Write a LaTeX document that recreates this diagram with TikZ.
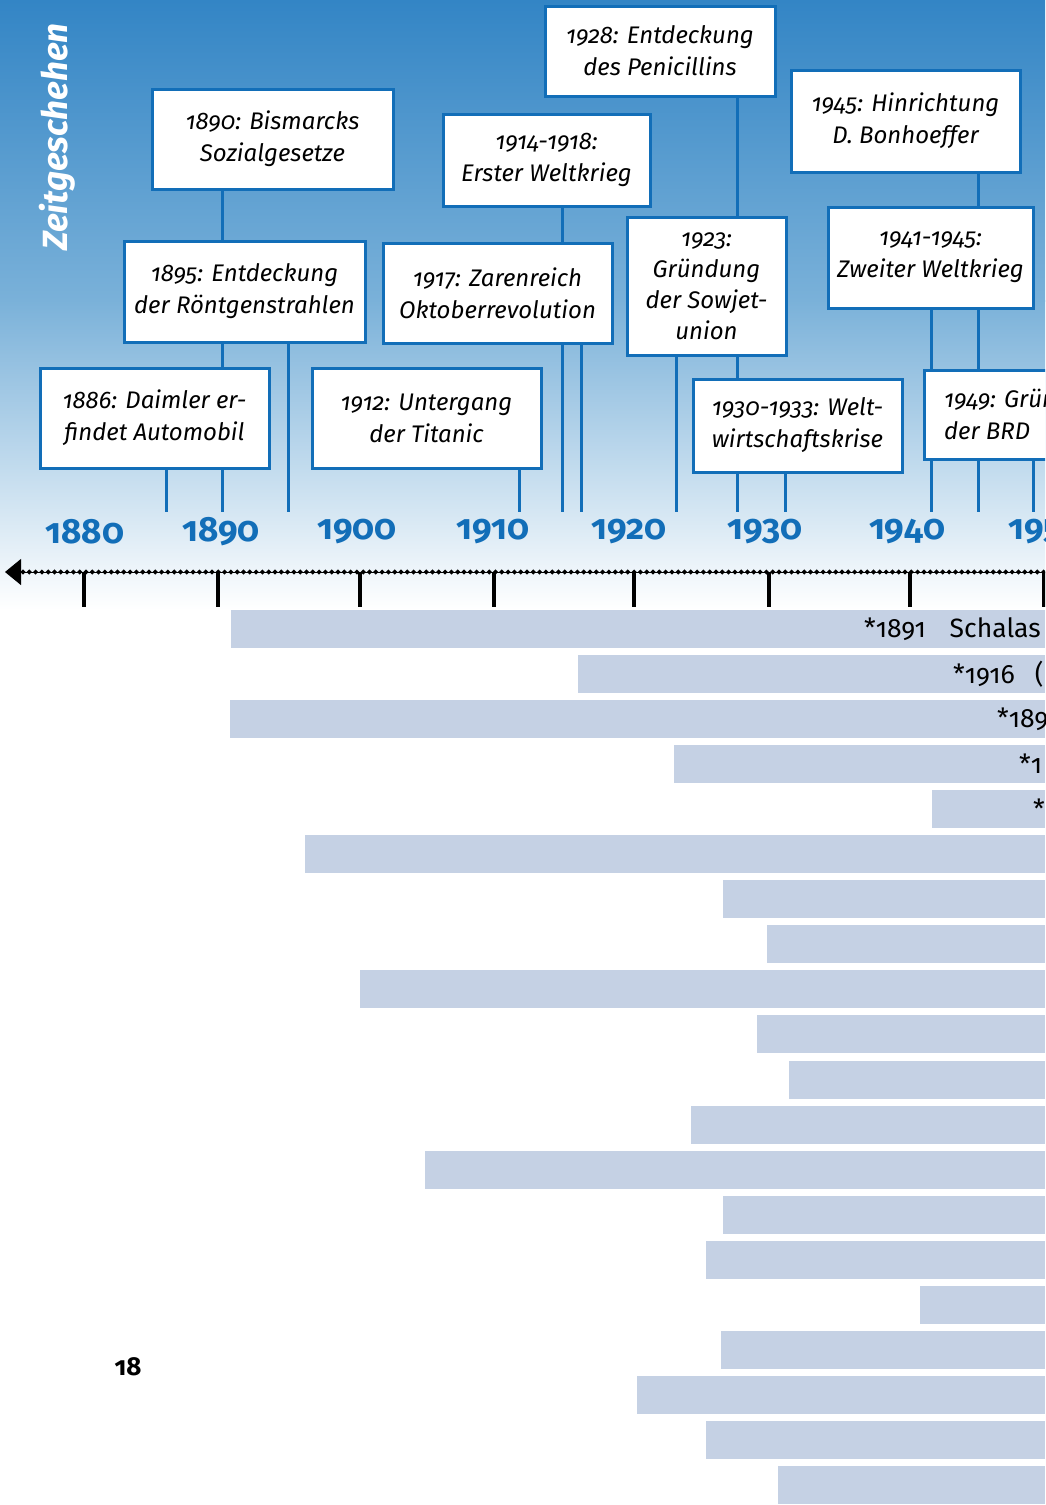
\documentclass[tikz,border=0pt]{standalone}
\usepackage{fontspec}
\setmainfont{Fira Sans}[Numbers=OldStyle]
\usepackage{tikz}
\usetikzlibrary{arrows.meta}
\definecolor{tlblue}{RGB}{18,110,184}
\definecolor{barblue}{RGB}{197,209,228}
\definecolor{skytop}{RGB}{51,133,197}
\definecolor{skymid}{RGB}{122,177,217}

\begin{document}
\begin{tikzpicture}[x=1pt,y=-1pt]
	\def \ground{512}
	\def \yearrow{532}
	\def \axis{572}
	\def \tickend{607}
	\def \bartop{610}
	\def \barstep{45.05}

	\tikzstyle{e-node}=[draw=tlblue,line width=3pt,fill=white,align=center,inner sep=0pt,font=\fontsize{24}{32}\selectfont\itshape]
	\tikzstyle{c-line}=[draw=tlblue,line width=3pt]
	\tikzstyle{year}=[text=tlblue,inner sep=0pt,font=\fontsize{35}{38}\selectfont\bfseries]
	\tikzstyle{tick}=[line width=3.5pt]
	\tikzstyle{bar}=[fill=barblue]
	\tikzstyle{b-label}=[anchor=west,inner sep=0pt,font=\fontsize{26.5}{28}\selectfont]

	\useasboundingbox (0,0) rectangle (1045,1505);
	\clip (0,0) rectangle (1045,1505);

	% sky
	\shade[top color=skytop,bottom color=skymid] (0,0) rectangle (1045,301);
	\shade[top color=skymid,bottom color=white] (0,300) rectangle (1045,610);

	\node[rotate=90,text=white,font=\fontsize{35}{38}\selectfont\bfseries\itshape] (title) at (57,137) {Zeitgeschehen};

	% event boxes
	\node[e-node,minimum width=241pt,minimum height=100pt] (bism)  at (272.5,139)   {1890: Bismarcks\\Sozialgesetze};
	\node[e-node,minimum width=241pt,minimum height=101pt] (roent) at (244.5,291.5) {1895: Entdeckung\\der Röntgenstrahlen};
	\node[e-node,minimum width=229pt,minimum height=100pt] (daim)  at (154.5,418)   {1886: Daimler er-\\findet Automobil};
	\node[e-node,minimum width=229pt,minimum height=100pt] (titan) at (426.5,418)   {1912: Untergang\\der Titanic};
	\node[e-node,minimum width=207pt,minimum height=92pt]  (wk1)   at (546.5,160)   {1914-1918:\\Erster Weltkrieg};
	\node[e-node,minimum width=229pt,minimum height=100pt] (zar)   at (497.5,293)   {1917: Zarenreich\\Oktoberrevolution};
	\node[e-node,minimum width=230pt,minimum height=90pt]  (peni)  at (660,51)      {1928: Entdeckung\\des Penicillins};
	\node[e-node,minimum width=159pt,minimum height=138pt,font=\fontsize{24}{31}\selectfont\itshape] (sowj) at (706.5,286) {1923:\\Gründung\\der Sowjet-\\union};
	\node[e-node,minimum width=209pt,minimum height=93pt]  (krise) at (797.5,425.5) {1930-1933: Welt-\\wirtschaftskrise};
	\node[e-node,minimum width=229pt,minimum height=102pt] (bonh)  at (905.5,121)   {1945: Hinrichtung\\D. Bonhoeffer};
	\node[e-node,minimum width=205pt,minimum height=101pt] (wk2)   at (930.5,257.5) {1941-1945:\\Zweiter Weltkrieg};
	\node[e-node,minimum width=208pt,minimum height=89pt,align=left] (brd) at (1028,414.5) {1949: Gründung\\der BRD};

	% where the lines meet the scale
	\coordinate (x1886) at (166,\ground);
	\coordinate (x1890) at (222,\ground);
	\coordinate (x1895) at (288,\ground);
	\coordinate (x1912) at (519,\ground);
	\coordinate (x1914) at (562,\ground);
	\coordinate (x1917) at (581,\ground);
	\coordinate (x1923) at (676,\ground);
	\coordinate (x1928) at (737,\ground);
	\coordinate (x1931) at (785,\ground);
	\coordinate (x1941) at (931,\ground);
	\coordinate (x1945) at (978,\ground);
	\coordinate (x1949) at (1033,\ground);

	% lines
	\draw[c-line] (bism.south -| x1890) -- (roent.north -| x1890);
	\draw[c-line] (roent.south -| x1890) -- (daim.north -| x1890);
	\draw[c-line] (daim.south -| x1890) -- (x1890);
	\draw[c-line] (daim.south -| x1886) -- (x1886);
	\draw[c-line] (roent.south -| x1895) -- (x1895);
	\draw[c-line] (titan.south -| x1912) -- (x1912);
	\draw[c-line] (wk1.south -| x1914) -- (zar.north -| x1914);
	\draw[c-line] (zar.south -| x1914) -- (x1914);
	\draw[c-line] (zar.south -| x1917) -- (x1917);
	\draw[c-line] (peni.south -| x1928) -- (sowj.north -| x1928);
	\draw[c-line] (sowj.south -| x1928) -- (krise.north -| x1928);
	\draw[c-line] (krise.south -| x1928) -- (x1928);
	\draw[c-line] (krise.south -| x1931) -- (x1931);
	\draw[c-line] (sowj.south -| x1923) -- (x1923);
	\draw[c-line] (bonh.south -| x1945) -- (wk2.north -| x1945);
	\draw[c-line] (wk2.south -| x1941) -- (brd.north -| x1941);
	\draw[c-line] (wk2.south -| x1945) -- (brd.north -| x1945);
	\draw[c-line] (brd.south -| x1941) -- (x1941);
	\draw[c-line] (brd.south -| x1945) -- (x1945);
	\draw[c-line] (brd.south -| x1949) -- (x1949);

	% scale
	\foreach \yr/\xx in {1880/85,1890/221,1900/357,1910/493,1920/629,1930/765,1940/907,1950/1046}
		\node[year] (l\yr) at (\xx,\yearrow) {\yr};
	\draw[line width=1pt,-{Triangle[width=26pt,length=16pt]}] (1045,\axis) -- (5,\axis);
	\foreach \i in {0,...,163}
		\fill ({23+6.3*\i},\axis) +(-2.6,0) -- +(0,-2.6) -- +(2.6,0) -- +(0,2.6) -- cycle;
	\foreach \xx in {84,218,360,494,634,769,910,1044}
		\draw[tick] (\xx,\axis) -- (\xx,\tickend);

	% life bars
	\foreach \l [count=\i] in {231,578,230,674,932,305,723,767,360,757,789,691,425,723,706,920,721,637,706,778}
		\fill[bar] (\l,{\bartop+\barstep*(\i-1)}) rectangle (1045,{\bartop+\barstep*(\i-1)+38});

	\node[b-label] (born1) at (864,629) {*1891\hspace{24pt}Schalas};
	\node[b-label] (born2) at (953,674) {*1916\hspace{20pt}(};
	\node[b-label] (born3) at (997,719) {*189};
	\node[b-label] (born4) at (1019,764) {*1};
	\node[b-label] (born5) at (1033,809) {*};

	\node[inner sep=0pt,font=\fontsize{26}{28}\selectfont\bfseries] (page) at (128,1367) {18};
\end{tikzpicture}
\end{document}
